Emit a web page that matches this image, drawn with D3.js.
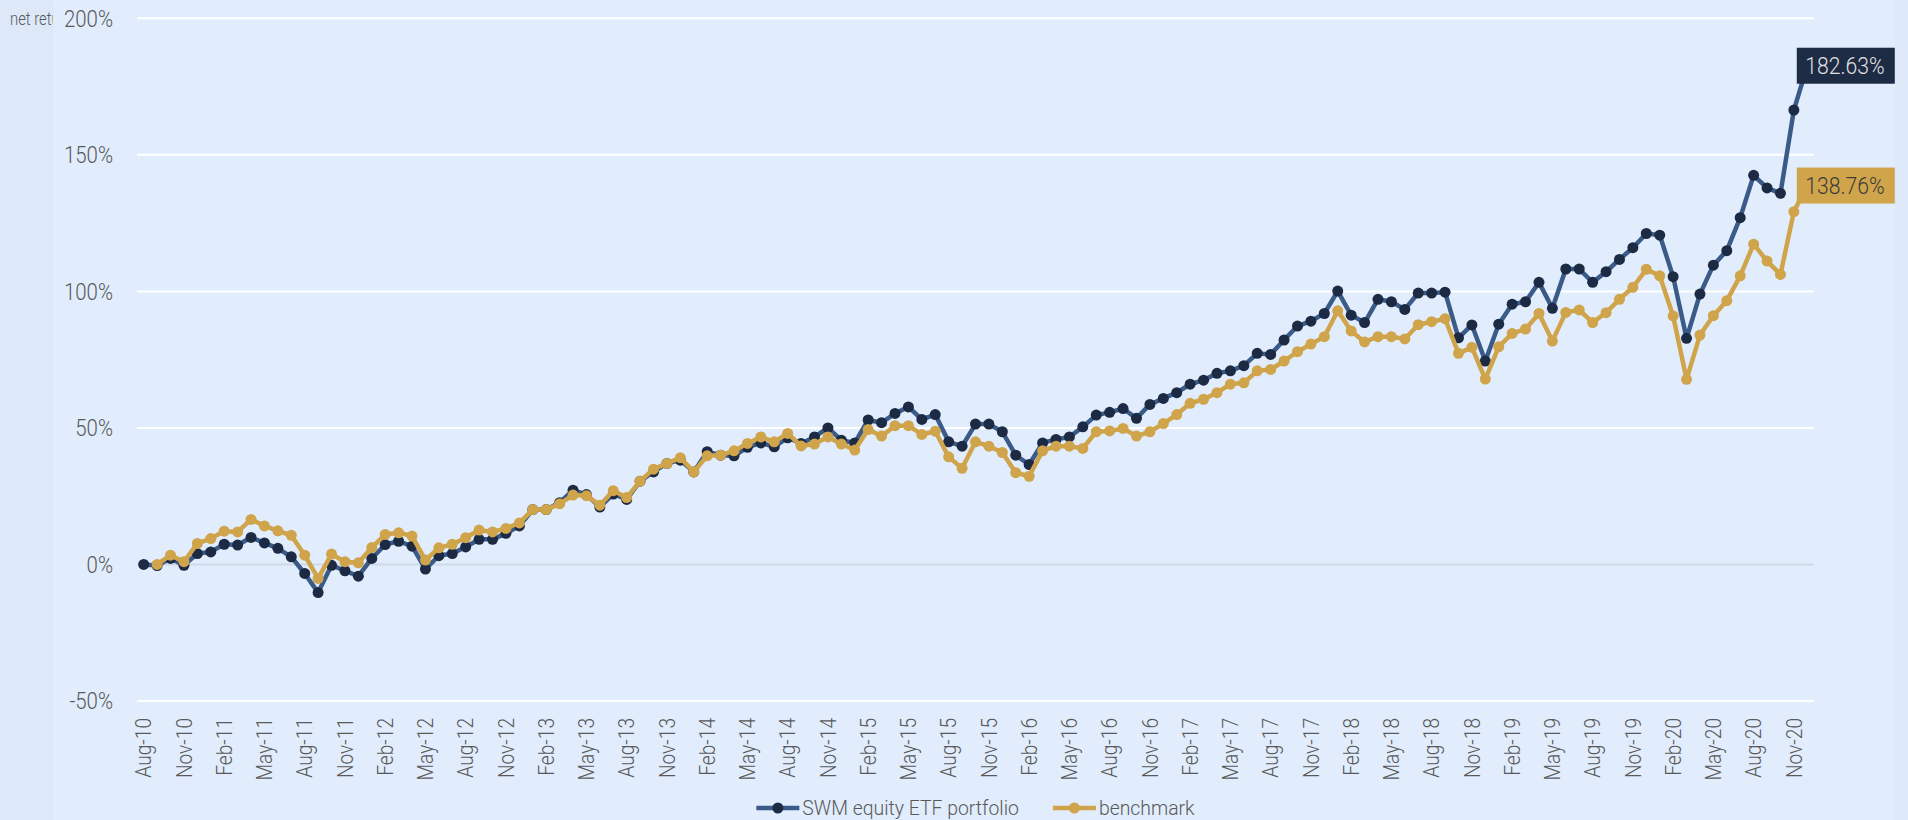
<!DOCTYPE html>
<html>
<head>
<meta charset="utf-8">
<script src="https://cdn.jsdelivr.net/npm/d3@7"></script>
<style>
  html, body { margin: 0; padding: 0; background: #dde9f9; }
  svg { display: block; }
  text { font-family: Roboto, "Noto Sans", sans-serif; font-weight: 300; }
</style>
</head>
<body>
<svg id="chart" width="1908" height="820"></svg>
<script>
// ---- data ----
const startMonth = new Date(2010, 7, 1);   // Aug-10
const endMonth = new Date(2021, 0, 1);     // exclusive -> last is Dec-20
const categories = d3.timeMonth.range(startMonth, endMonth).map(d3.timeFormat("%b-%y"));

const seriesNames = ["SWM equity ETF portfolio", "benchmark"];

const portfolio = [
  0, -0.4, 2.2, -0.3, 4.0, 4.6, 7.4, 7.1, 9.9, 7.9,
  5.9, 2.8, -3.3, -10.3, -0.3, -2.3, -4.3, 2.2, 7.3, 8.5,
  6.7, -1.7, 3.2, 4.0, 6.4, 9.2, 9.2, 11.4, 14.1, 20.1,
  20.1, 22.6, 27.2, 25.6, 21.0, 25.8, 23.8, 30.5, 33.9, 37.0,
  38.2, 33.9, 41.3, 40.0, 39.8, 42.9, 44.5, 43.1, 46.4, 44.3,
  46.7, 50.0, 45.5, 44.5, 52.9, 51.9, 55.3, 57.7, 53.1, 54.9,
  44.9, 43.3, 51.4, 51.4, 48.6, 40.0, 36.6, 44.5, 45.8, 46.7,
  50.4, 54.7, 55.7, 57.1, 53.5, 58.6, 60.8, 62.9, 66.0, 67.5,
  70.0, 70.9, 72.8, 77.3, 76.9, 82.2, 87.3, 89.1, 91.9, 100.1,
  91.3, 88.6, 97.1, 96.2, 93.4, 99.4, 99.4, 99.7, 83.0, 87.7,
  74.5, 88.0, 95.3, 96.2, 103.3, 93.8, 108.2, 108.2, 103.3, 107.2,
  111.7, 116.0, 121.2, 120.6, 105.4, 82.8, 99.0, 109.6, 114.9, 127.0,
  142.5, 137.9, 135.9, 166.4, 182.63
];

const benchmark = [
  null, 0, 3.4, 1.0, 7.7, 9.5, 12.2, 11.9, 16.5, 14.1,
  12.3, 10.7, 3.4, -5.1, 3.8, 1.0, 0.6, 6.2, 11.0, 11.6,
  10.4, 1.6, 6.1, 7.4, 9.8, 12.6, 11.9, 13.2, 15.2, 20.1,
  20.1, 22.2, 25.4, 25.2, 21.7, 27.0, 24.5, 30.5, 34.9, 37.0,
  39.1, 33.9, 39.8, 40.0, 41.6, 44.3, 46.7, 44.9, 48.0, 43.4,
  44.1, 46.7, 44.1, 41.9, 49.4, 47.0, 50.8, 50.8, 47.6, 48.8,
  39.4, 35.2, 44.9, 43.3, 41.0, 33.6, 32.3, 41.6, 43.3, 43.3,
  42.5, 48.6, 48.9, 49.8, 47.0, 48.6, 51.6, 54.9, 59.0, 60.5,
  62.9, 66.0, 66.5, 70.9, 71.4, 74.5, 77.9, 80.7, 83.4, 92.9,
  85.5, 81.5, 83.4, 83.4, 82.6, 87.8, 88.9, 90.0, 77.3, 79.5,
  67.9, 79.7, 84.6, 86.2, 91.9, 81.8, 92.3, 93.2, 88.6, 92.2,
  97.1, 101.5, 108.1, 105.7, 91.0, 67.8, 84.0, 91.1, 96.6, 105.7,
  117.3, 111.1, 106.2, 129.2, 138.76
];

const yTicks = [-50, 0, 50, 100, 150, 200];
const xTickEvery = 3;
const yAxisTitle = "net return";

// ---- layout ----
const svg = d3.select("#chart");
const W = 1908, H = 820;
const plot = { left: 137, right: 1814, top: 18.3, bottom: 701 };

const colors = {
  outer: "#dde9f9",
  panel: "#e1edfd",
  grid: "#ffffff",
  zero: "#cfd9e8",
  text: "#595959",
  portLine: "#3a5a88",
  portDot: "#1c2a44",
  bench: "#cfa44a"
};

svg.append("rect").attr("width", W).attr("height", H).attr("fill", colors.outer);

// y-axis title, clipped at the edge of the chart panel as in the original
svg.append("defs").append("clipPath").attr("id", "titleClip")
  .append("rect").attr("x", 0).attr("y", 0).attr("width", 53).attr("height", 60);
svg.append("g").attr("clip-path", "url(#titleClip)")
  .append("g").attr("transform", "translate(10,25) scale(0.8,1)")
  .append("text").attr("font-size", 18.5).attr("fill", colors.text).text(yAxisTitle);

svg.append("rect").attr("x", 53).attr("y", 0).attr("width", 1895 - 53).attr("height", H)
  .attr("fill", colors.panel);

const x = d3.scalePoint().domain(categories).range([plot.left, plot.right]).padding(0.5);
const y = d3.scaleLinear().domain([-50, 200]).range([plot.bottom, plot.top]);

// grid lines
svg.append("g").selectAll("line").data(yTicks).join("line")
  .attr("x1", plot.left).attr("x2", plot.right)
  .attr("y1", d => y(d)).attr("y2", d => y(d))
  .attr("stroke", d => d === 0 ? colors.zero : colors.grid)
  .attr("stroke-width", 2);

// y labels
svg.append("g").selectAll("g").data(yTicks).join("g")
  .attr("transform", d => `translate(113,${y(d)}) scale(0.85,1)`)
  .append("text")
  .attr("text-anchor", "end").attr("dy", "0.35em")
  .attr("font-size", 24).attr("fill", colors.text)
  .text(d => d + "%");

// x labels
const xTickCats = categories.filter((c, i) => i % xTickEvery === 0);
svg.append("g").selectAll("g").data(xTickCats).join("g")
  .attr("transform", d => `translate(${x(d)},718) rotate(-90) scale(0.87,1)`)
  .append("text")
  .attr("text-anchor", "end").attr("dy", "0.35em")
  .attr("font-size", 22).attr("fill", colors.text)
  .text(d => d);

// series
const series = [
  { name: seriesNames[0], values: portfolio, line: colors.portLine, dot: colors.portDot },
  { name: seriesNames[1], values: benchmark, line: colors.bench, dot: colors.bench }
];

const lineGen = d3.line()
  .defined(d => d.v !== null)
  .x(d => x(d.c)).y(d => y(d.v));

series.forEach(s => {
  const pts = s.values.map((v, i) => ({ c: categories[i], v }));
  const g = svg.append("g");
  g.append("path").datum(pts)
    .attr("d", lineGen)
    .attr("fill", "none").attr("stroke", s.line)
    .attr("stroke-width", 4.5).attr("stroke-linejoin", "round");
  g.selectAll("circle").data(pts.filter(p => p.v !== null)).join("circle")
    .attr("cx", d => x(d.c)).attr("cy", d => y(d.v)).attr("r", 5.5)
    .attr("fill", s.dot);
});

// end labels
const endLabels = [
  { v: portfolio[portfolio.length - 1], bg: "#1e2b45", fg: "#e0e0e0" },
  { v: benchmark[benchmark.length - 1], bg: "#cfa44a", fg: "#3c3c3c" }
];
const lastCat = categories[categories.length - 1];
endLabels.forEach(l => {
  const bx = x(lastCat) - 10.5, by = y(l.v) - 18;
  svg.append("rect").attr("x", bx).attr("y", by).attr("width", 98).attr("height", 36)
    .attr("fill", l.bg);
  svg.append("g").attr("transform", `translate(${bx + 8.5},${y(l.v)}) scale(0.88,1)`)
    .append("text").attr("dy", "0.35em").attr("font-size", 24).attr("fill", l.fg)
    .text(l.v.toFixed(2) + "%");
});

// legend
const legend = svg.append("g");
const legendY = 808;
const lgScale = 0.97, lgFont = 20;
let items = [];
let cursor = 0;
series.forEach((s, k) => {
  const g = legend.append("g");
  g.append("line").attr("x1", 0).attr("x2", 43).attr("y1", 0).attr("y2", 0)
    .attr("stroke", s.line).attr("stroke-width", 4.5);
  g.append("circle").attr("cx", 21.5).attr("cy", 0).attr("r", 5.5).attr("fill", s.dot);
  const tg = g.append("g").attr("transform", `translate(46,0) scale(${lgScale},1)`);
  const t = tg.append("text").attr("dy", "0.35em").attr("font-size", lgFont)
    .attr("fill", colors.text).text(s.name);
  const w = 46 + t.node().getComputedTextLength() * lgScale;
  items.push({ g, x: cursor });
  cursor += w + 34;
});
const total = cursor - 34;
const lx0 = (plot.left + plot.right) / 2 - total / 2;
items.forEach(it => it.g.attr("transform", `translate(${lx0 + it.x},${legendY})`));
</script>
</body>
</html>
